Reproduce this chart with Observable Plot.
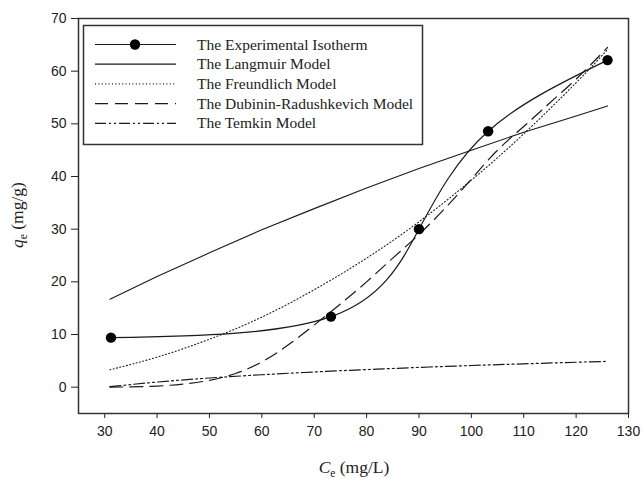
<!DOCTYPE html>
<html>
<head>
<meta charset="utf-8">
<script src="https://cdn.jsdelivr.net/npm/d3@7"></script>
<script src="https://cdn.jsdelivr.net/npm/@observablehq/plot@0.6"></script>
<style>
  html, body { margin: 0; padding: 0; background: #fff; }
  #chart { width: 644px; height: 479px; }
</style>
</head>
<body>
<div id="chart"></div>
<script>
// ---- data ----
const xTicks = [30, 40, 50, 60, 70, 80, 90, 100, 110, 120, 130];
const yTicks = [0, 10, 20, 30, 40, 50, 60, 70];

// Experimental isotherm points
const expCe = [31.2, 73.2, 90.0, 103.2, 126.0];
const expQe = [9.4, 13.4, 30.0, 48.6, 62.1];

// Model curves, sampled along Ce
const modelCe = [31, 40, 50, 60, 70, 80, 90, 100, 110, 120, 126];
const langmuirQe = [16.7, 21.0, 25.5, 29.9, 33.9, 37.8, 41.5, 45.0, 48.4, 51.5, 53.4];
const freundlichQe = [3.3, 5.7, 9.1, 13.3, 18.5, 24.5, 31.4, 39.3, 48.1, 57.8, 64.1];
const temkinQe = [0.1, 0.97, 1.74, 2.36, 2.89, 3.34, 3.75, 4.11, 4.43, 4.73, 4.9];

const drCe = [31, 35, 40, 45, 50, 55, 60, 65, 70, 75, 80, 85, 90, 95, 100, 105, 110, 115, 120, 126];
const drQe = [0.0, 0.05, 0.2, 0.6, 1.3, 2.6, 4.8, 8.0, 11.8, 15.8, 20.0, 24.5, 29.0, 34.0, 39.5, 45.0, 49.5, 54.0, 58.5, 64.5];

const legendLabels = [
  "The Experimental Isotherm",
  "The Langmuir Model",
  "The Freundlich Model",
  "The Dubinin-Radushkevich Model",
  "The Temkin Model"
];

// ---- tables built from the arrays ----
const expData = expCe.map((c, i) => ({c, q: expQe[i]}));
const lang = modelCe.map((c, i) => ({c, q: langmuirQe[i]}));
const freu = modelCe.map((c, i) => ({c, q: freundlichQe[i]}));
const temk = modelCe.map((c, i) => ({c, q: temkinQe[i]}));
const dr = drCe.map((c, i) => ({c, q: drQe[i]}));

const ink = "#1a1a1a";
const dashes = {
  solid: null,
  dotted: "1,2.4",
  dashed: "13,7",
  dashdotdot: "11,3,2,3,2,3"
};

const chart = Plot.plot({
  width: 644,
  height: 479,
  marginLeft: 78,
  marginRight: 16,
  marginTop: 18,
  marginBottom: 66,
  x: {domain: [25, 130]},
  y: {domain: [-5, 70]},
  style: {
    fontFamily: "'Liberation Sans', Arial, sans-serif",
    fontSize: "14px",
    color: "#222",
    background: "#fff"
  },
  marks: [
    Plot.axisX({ticks: xTicks, tickSize: 5, tickPadding: 8, label: null, fontSize: 14, tickFormat: d => d}),
    Plot.axisY({ticks: yTicks, tickSize: 7, tickPadding: 5, label: null, fontSize: 14, tickFormat: d => d}),
    Plot.line(lang, {x: "c", y: "q", stroke: ink, strokeWidth: 1.1}),
    Plot.line(freu, {x: "c", y: "q", stroke: ink, strokeWidth: 1.1, strokeDasharray: dashes.dotted, curve: "natural"}),
    Plot.line(dr, {x: "c", y: "q", stroke: ink, strokeWidth: 1.2, strokeDasharray: dashes.dashed, curve: "natural"}),
    Plot.line(temk, {x: "c", y: "q", stroke: ink, strokeWidth: 1.2, strokeDasharray: dashes.dashdotdot, curve: "natural"}),
    Plot.line(expData, {x: "c", y: "q", stroke: ink, strokeWidth: 1.2, curve: "natural"}),
    Plot.dot(expData, {x: "c", y: "q", r: 5.2, fill: "#000", stroke: "none"}),
    Plot.frame({stroke: "#333", strokeWidth: 1.5})
  ]
});

document.getElementById("chart").appendChild(chart);

// ---- axis titles and legend (added to the same SVG) ----
const svg = d3.select(chart);
const serif = "'Liberation Serif', 'Times New Roman', serif";

// x axis title: C_e (mg/L)
const xt = svg.append("text")
  .attr("x", 354).attr("y", 473)
  .attr("text-anchor", "middle")
  .attr("font-family", serif).attr("font-size", 17.5).attr("fill", "#222");
xt.append("tspan").attr("font-style", "italic").text("C");
xt.append("tspan").attr("font-size", 11.5).attr("dy", 3.5).text("e");
xt.append("tspan").attr("dy", -3.5).text(" (mg/L)");

// y axis title: q_e (mg/g)
const yt = svg.append("text")
  .attr("transform", "translate(23,215) rotate(-90)")
  .attr("text-anchor", "middle")
  .attr("font-family", serif).attr("font-size", 17.5).attr("fill", "#222");
yt.append("tspan").attr("font-style", "italic").text("q");
yt.append("tspan").attr("font-size", 11.5).attr("dy", 3.5).text("e");
yt.append("tspan").attr("dy", -3.5).text(" (mg/g)");

// legend
const lg = svg.append("g").attr("text-anchor", "start");
lg.append("rect")
  .attr("x", 83.5).attr("y", 25.5).attr("width", 339).attr("height", 119)
  .attr("fill", "#fff").attr("stroke", "#333").attr("stroke-width", 1.5);
const styles = [dashes.solid, dashes.solid, dashes.dotted, dashes.dashed, dashes.dashdotdot];
legendLabels.forEach((label, i) => {
  const y = 44.5 + i * 19.7;
  lg.append("line")
    .attr("x1", 95).attr("x2", 176).attr("y1", y).attr("y2", y)
    .attr("stroke", ink).attr("stroke-width", 1.2)
    .attr("stroke-dasharray", styles[i]);
  if (i === 0) {
    lg.append("circle").attr("cx", 135).attr("cy", y).attr("r", 5.2).attr("fill", "#000");
  }
  lg.append("text")
    .attr("x", 197).attr("y", y + 5)
    .attr("text-anchor", "start")
    .attr("font-family", serif).attr("font-size", 15.5).attr("fill", "#222")
    .text(label);
});
</script>
</body>
</html>
